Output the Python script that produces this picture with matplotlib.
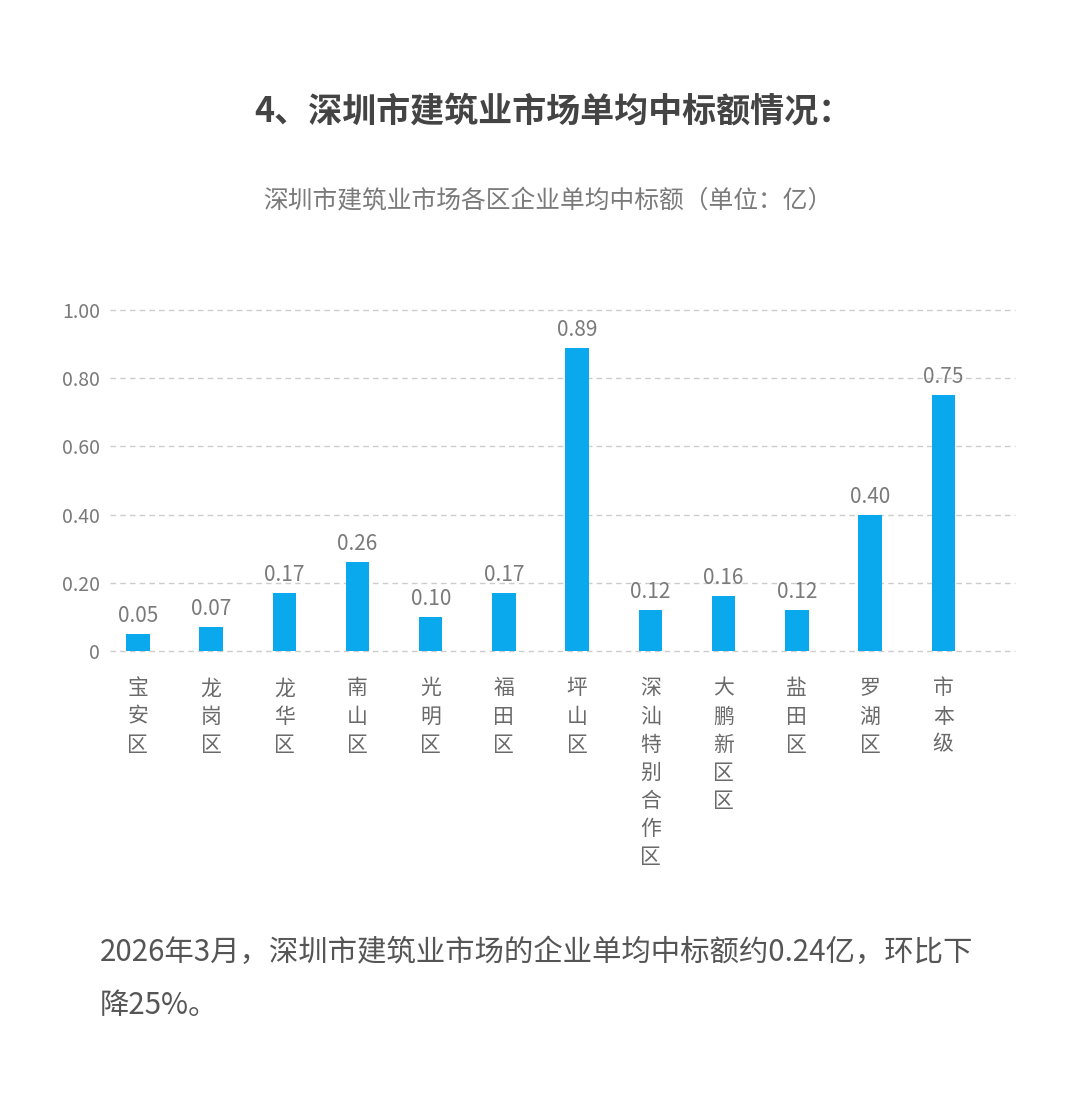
import matplotlib
matplotlib.use("Agg")
import matplotlib.pyplot as plt

plt.rcParams['font.family'] = ['Noto Sans CJK SC', 'DejaVu Sans']

categories = ["宝安区", "龙岗区", "龙华区", "南山区", "光明区", "福田区", "坪山区",
              "深汕特别合作区", "大鹏新区区", "盐田区", "罗湖区", "市本级"]
values = [0.05, 0.07, 0.17, 0.26, 0.10, 0.17, 0.89, 0.12, 0.16, 0.12, 0.40, 0.75]
yticks = [0, 0.2, 0.4, 0.6, 0.8, 1.0]
ytick_labels = ["0", "0.20", "0.40", "0.60", "0.80", "1.00"]

title = "4、深圳市建筑业市场单均中标额情况："
subtitle = "深圳市建筑业市场各区企业单均中标额（单位：亿）"
note_line1 = "2026年3月，深圳市建筑业市场的企业单均中标额约0.24亿，环比下"
note_line2 = "降25%。"

W, H = 1080, 1110
fig = plt.figure(figsize=(W / 100, H / 100), dpi=100)
fig.patch.set_facecolor("white")

ax = fig.add_axes([110 / W, 1 - 651 / H, (1015 - 110) / W, (651 - 310) / H])
x = list(range(len(categories)))
ax.bar(x, values, width=0.32, color="#0AA8EC", zorder=3)
ax.set_xlim(-0.38, 11.98)
ax.set_ylim(0, 1.0)
ax.set_yticks(yticks)
ax.set_yticklabels(ytick_labels, fontsize=14, color="#7a7a7a")
ax.tick_params(axis="y", length=0, pad=7)
ax.tick_params(axis="x", length=0)
ax.set_xticks([])
for s in ax.spines.values():
    s.set_visible(False)
for yv in yticks:
    ax.axhline(yv, color="#cccccc", lw=1.0, ls=(0, (4, 3)), zorder=1, clip_on=False)

for xi, v in zip(x, values):
    ax.annotate(f"{v:.2f}", (xi, v), xytext=(0, 5), textcoords="offset points",
                ha="center", va="bottom", fontsize=15, color="#7a7a7a")

for xi, c in zip(x, categories):
    ax.annotate("\n".join(c), (xi, 0), xytext=(0, -19), textcoords="offset points",
                ha="center", va="top", fontsize=15, color="#6a6a6a", linespacing=1.36)

fig.text(553 / W, 1 - 111 / H, title, ha="center", va="center", fontsize=24.5,
         fontweight="bold", color="#444444")
fig.text(548 / W, 1 - 201 / H, subtitle, ha="center", va="center", fontsize=17.8,
         color="#7a7a7a")
fig.text(100 / W, 1 - 952 / H, note_line1, ha="left", va="center", fontsize=21.2,
         color="#555555")
fig.text(100 / W, 1 - 1005 / H, note_line2, ha="left", va="center", fontsize=21.2,
         color="#555555")

fig.savefig("out.png", dpi=100, facecolor="white")
